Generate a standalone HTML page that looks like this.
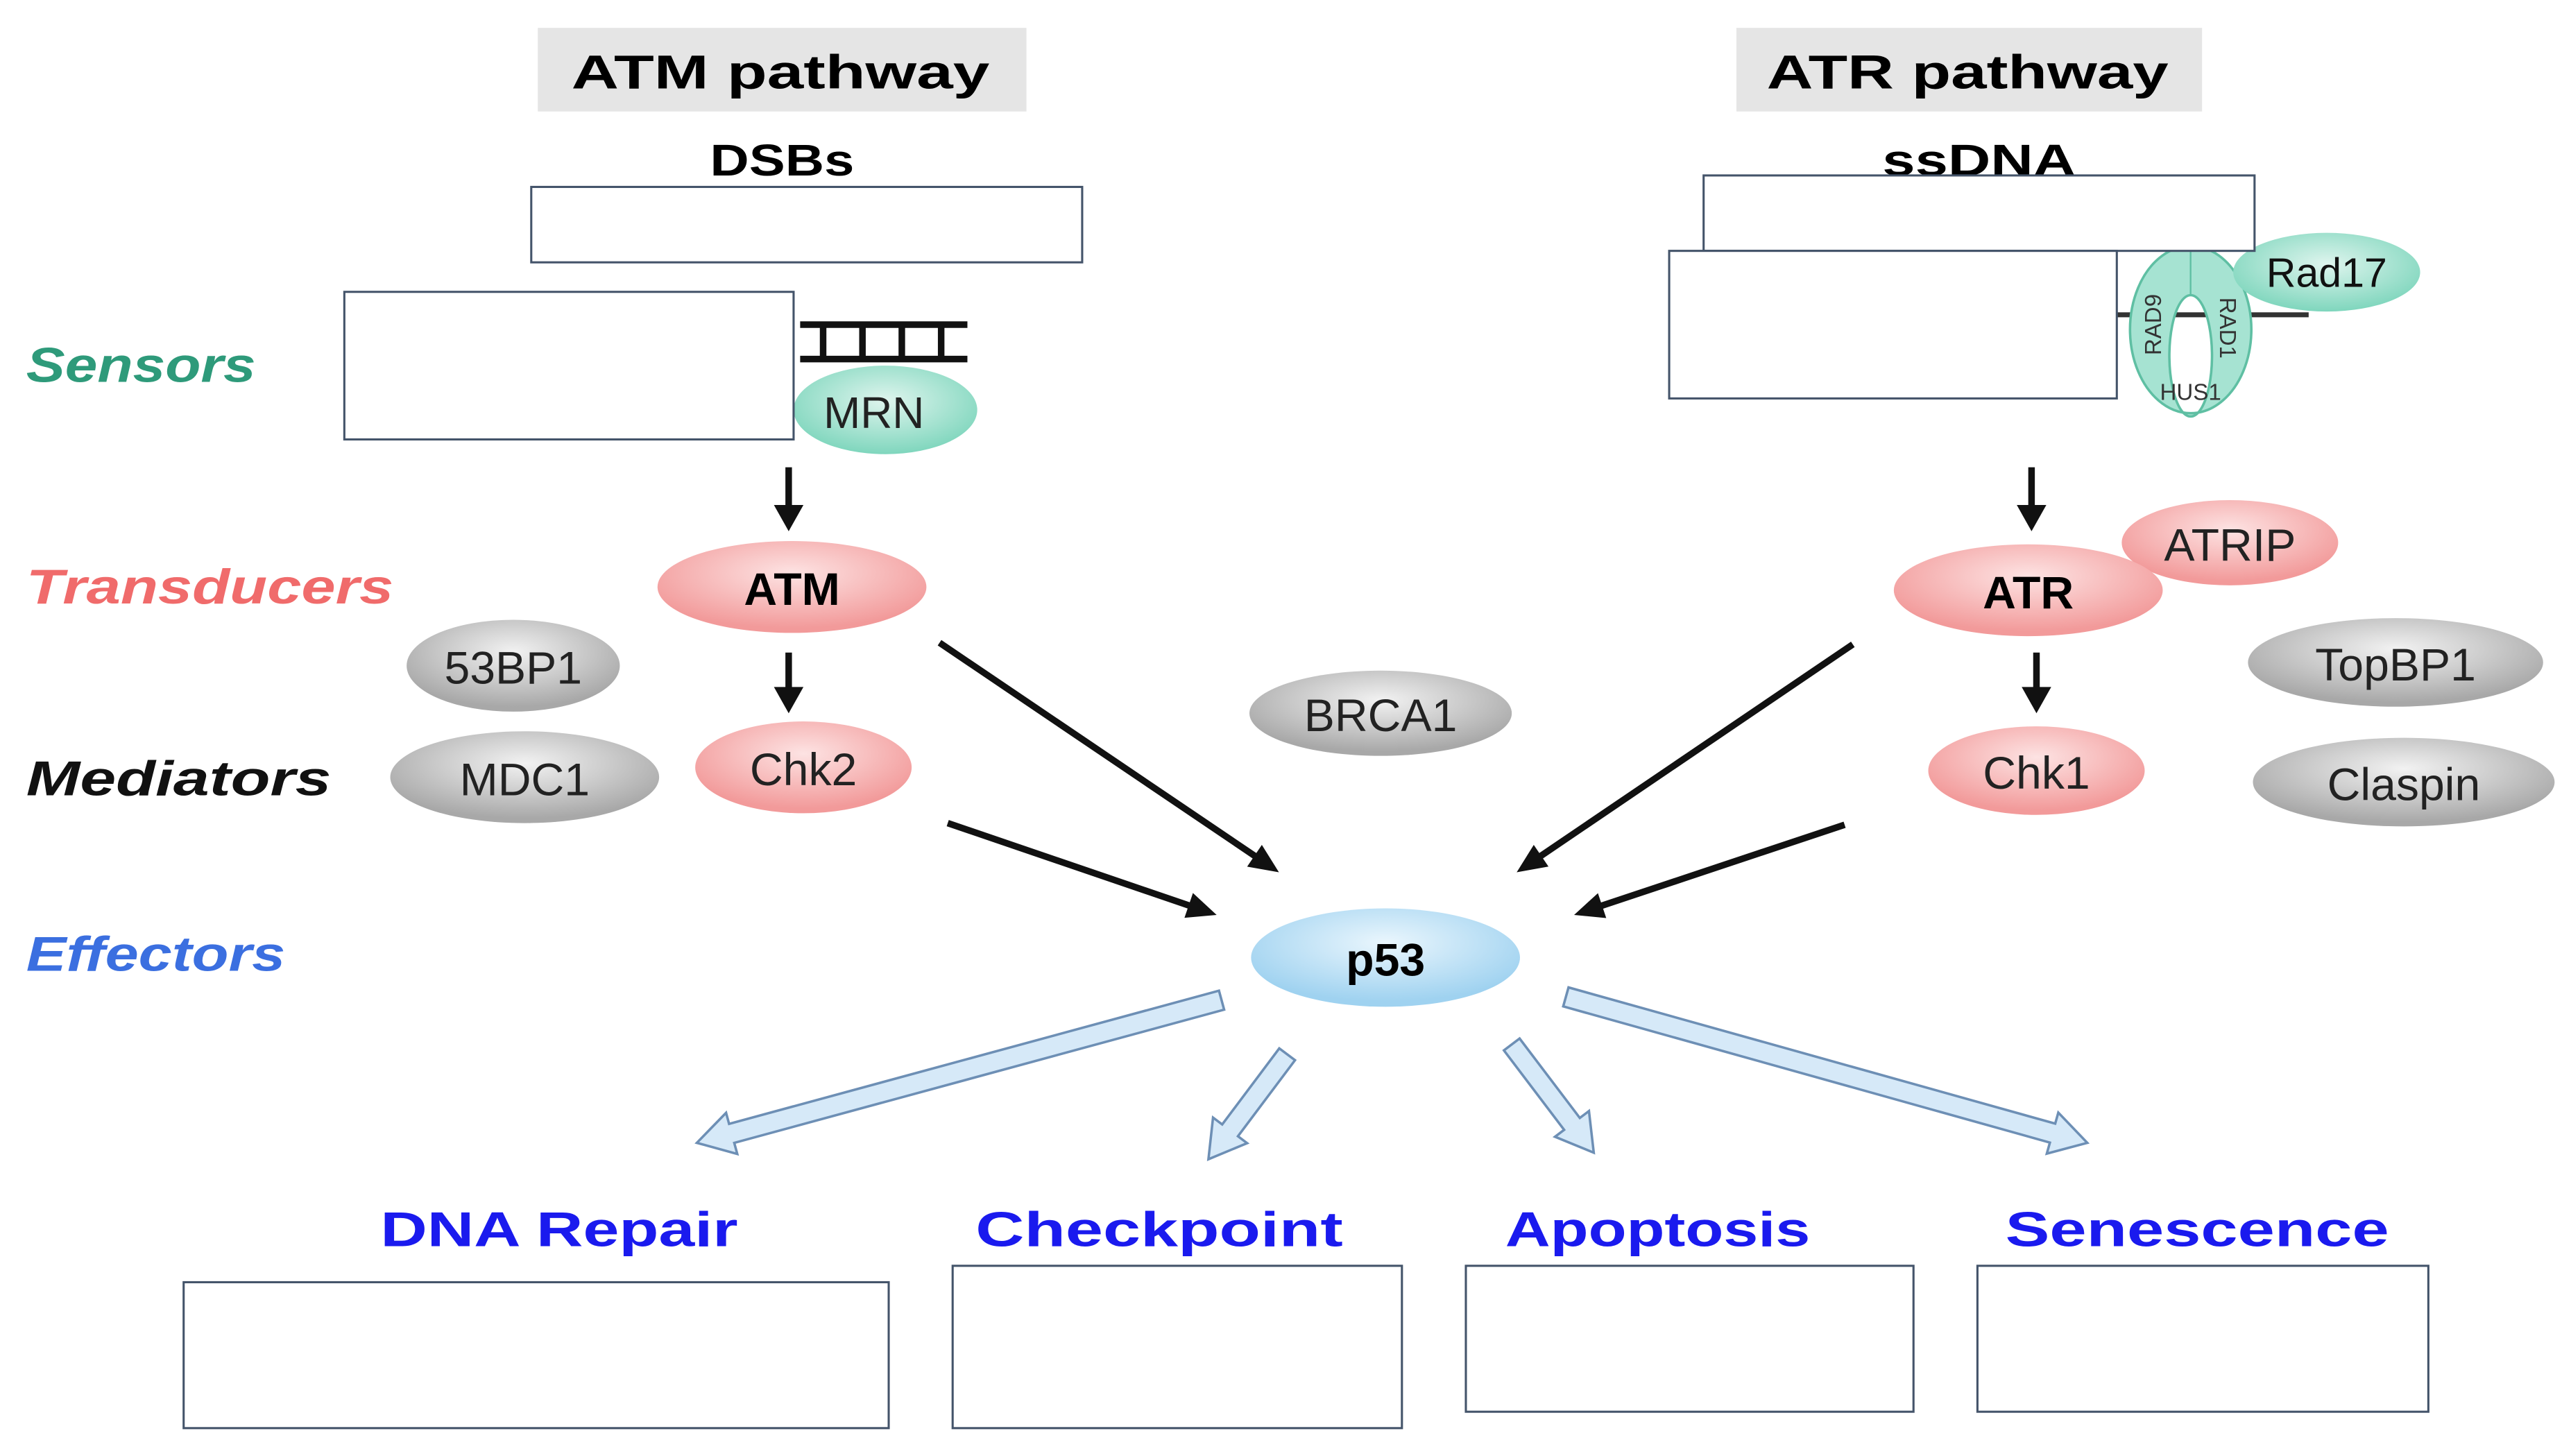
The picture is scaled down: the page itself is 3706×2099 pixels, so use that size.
<!DOCTYPE html>
<html><head><meta charset="utf-8"><style>
html,body{margin:0;padding:0;background:#fff}
svg{display:block}
text{font-family:"Liberation Sans",sans-serif}
</style></head><body>
<svg id="s" width="3706" height="2099" viewBox="0 0 1568 888" preserveAspectRatio="none" xmlns="http://www.w3.org/2000/svg">
<defs>
<radialGradient id="gm" cx="50%" cy="40%" r="60%"><stop offset="0" stop-color="#dff5ee"/><stop offset="1" stop-color="#7fd6bd"/></radialGradient>
<radialGradient id="gp" cx="50%" cy="35%" r="60%"><stop offset="0" stop-color="#fde3e3"/><stop offset="1" stop-color="#f29a9a"/></radialGradient>
<radialGradient id="gg" cx="50%" cy="35%" r="60%"><stop offset="0" stop-color="#f2f2f2"/><stop offset="1" stop-color="#a8a8a8"/></radialGradient>
<radialGradient id="gb" cx="50%" cy="35%" r="60%"><stop offset="0" stop-color="#eaf6fd"/><stop offset="1" stop-color="#9fd2f0"/></radialGradient>
</defs>
<rect x="328" y="17" width="298" height="51" fill="#e5e5e5"/>
<text x="476" y="54" font-size="29" font-weight="bold" text-anchor="middle" textLength="255" lengthAdjust="spacingAndGlyphs">ATM pathway</text>
<rect x="1059" y="17" width="284" height="51" fill="#e5e5e5"/>
<text x="1200" y="54" font-size="29" font-weight="bold" text-anchor="middle" textLength="245" lengthAdjust="spacingAndGlyphs">ATR pathway</text>
<text x="477" y="107" font-size="27" font-weight="bold" text-anchor="middle" textLength="88" lengthAdjust="spacingAndGlyphs">DSBs</text>
<text x="1207" y="107" font-size="27" font-weight="bold" text-anchor="middle" textLength="118" lengthAdjust="spacingAndGlyphs">ssDNA</text>

<g font-style="italic" font-weight="bold" font-size="30">
<text x="16" y="233" fill="#2e9a7a" textLength="140" lengthAdjust="spacingAndGlyphs">Sensors</text>
<text x="16" y="368" fill="#f06b6b" textLength="224" lengthAdjust="spacingAndGlyphs">Transducers</text>
<text x="16" y="485" fill="#111" textLength="186" lengthAdjust="spacingAndGlyphs">Mediators</text>
<text x="16" y="592" fill="#3b6fe0" textLength="158" lengthAdjust="spacingAndGlyphs">Effectors</text>
</g>

<g stroke="#111" stroke-width="4">
<line x1="488" y1="198" x2="590" y2="198"/><line x1="488" y1="219" x2="590" y2="219"/>
<line x1="502" y1="198" x2="502" y2="219"/><line x1="526" y1="198" x2="526" y2="219"/><line x1="550" y1="198" x2="550" y2="219"/><line x1="574" y1="198" x2="574" y2="219"/>
</g>
<ellipse cx="540" cy="250" rx="56" ry="27" fill="url(#gm)"/>
<text x="533" y="261" font-size="27" text-anchor="middle" fill="#222">MRN</text>

<line x1="1291" y1="192" x2="1408" y2="192" stroke="#333" stroke-width="3"/>
<path fill-rule="evenodd" d="M1336 150 a37 51 0 1 0 0.1 0 Z M1336 180 a13 37 0 1 0 0.1 0 Z" fill="#a6e3d2" stroke="#5fbfa3" stroke-width="1.5"/>
<line x1="1336" y1="150" x2="1336" y2="180" stroke="#5fbfa3"/>
<text x="1336" y="244" font-size="14" text-anchor="middle" fill="#333">HUS1</text>
<text transform="translate(1318,198) rotate(-90)" font-size="14" text-anchor="middle" fill="#333">RAD9</text>
<text transform="translate(1354,200) rotate(90)" font-size="14" text-anchor="middle" fill="#333">RAD1</text>
<ellipse cx="1419" cy="166" rx="57" ry="24" fill="url(#gm)"/>
<text x="1419" y="175" font-size="25" text-anchor="middle" fill="#111">Rad17</text>

<g fill="#fff" stroke="#44546a" stroke-width="1.3">
<rect x="324" y="114" width="336" height="46"/>
<rect x="210" y="178" width="274" height="90"/>
<rect x="1039" y="107" width="336" height="46"/>
<rect x="1018" y="153" width="273" height="90"/>
<rect x="112" y="782" width="430" height="89"/>
<rect x="581" y="772" width="274" height="99"/>
<rect x="894" y="772" width="273" height="89"/>
<rect x="1206" y="772" width="275" height="89"/>
</g>

<g stroke="#111" stroke-width="4" fill="#111">
<line x1="481" y1="285" x2="481" y2="310"/><polygon points="472,308 490,308 481,324" stroke="none"/>
<line x1="481" y1="398" x2="481" y2="421"/><polygon points="472,419 490,419 481,435" stroke="none"/>
<line x1="1239" y1="285" x2="1239" y2="310"/><polygon points="1230,308 1248,308 1239,324" stroke="none"/>
<line x1="1242" y1="398" x2="1242" y2="421"/><polygon points="1233,419 1251,419 1242,435" stroke="none"/>
</g>

<ellipse cx="483" cy="358" rx="82" ry="28" fill="url(#gp)"/>
<text x="483" y="369" font-size="28" font-weight="bold" text-anchor="middle">ATM</text>
<ellipse cx="1360" cy="331" rx="66" ry="26" fill="url(#gp)"/>
<text x="1360" y="342" font-size="28" text-anchor="middle" fill="#222">ATRIP</text>
<ellipse cx="1237" cy="360" rx="82" ry="28" fill="url(#gp)"/>
<text x="1237" y="371" font-size="28" font-weight="bold" text-anchor="middle">ATR</text>
<ellipse cx="313" cy="406" rx="65" ry="28" fill="url(#gg)"/>
<text x="313" y="417" font-size="28" text-anchor="middle" fill="#222">53BP1</text>
<ellipse cx="320" cy="474" rx="82" ry="28" fill="url(#gg)"/>
<text x="320" y="485" font-size="28" text-anchor="middle" fill="#222">MDC1</text>
<ellipse cx="490" cy="468" rx="66" ry="28" fill="url(#gp)"/>
<text x="490" y="479" font-size="28" text-anchor="middle" fill="#222">Chk2</text>
<ellipse cx="842" cy="435" rx="80" ry="26" fill="url(#gg)"/>
<text x="842" y="446" font-size="28" text-anchor="middle" fill="#222">BRCA1</text>
<ellipse cx="1461" cy="404" rx="90" ry="27" fill="url(#gg)"/>
<text x="1461" y="415" font-size="28" text-anchor="middle" fill="#222">TopBP1</text>
<ellipse cx="1242" cy="470" rx="66" ry="27" fill="url(#gp)"/>
<text x="1242" y="481" font-size="28" text-anchor="middle" fill="#222">Chk1</text>
<ellipse cx="1466" cy="477" rx="92" ry="27" fill="url(#gg)"/>
<text x="1466" y="488" font-size="28" text-anchor="middle" fill="#222">Claspin</text>
<ellipse cx="845" cy="584" rx="82" ry="30" fill="url(#gb)"/>
<text x="845" y="595" font-size="28" font-weight="bold" text-anchor="middle">p53</text>

<g id="arr"></g>

<g font-size="30" font-weight="bold" fill="#1a1aee" text-anchor="middle">
<text x="341" y="760" textLength="218" lengthAdjust="spacingAndGlyphs">DNA Repair</text>
<text x="707" y="760" textLength="224" lengthAdjust="spacingAndGlyphs">Checkpoint</text>
<text x="1011" y="760" textLength="186" lengthAdjust="spacingAndGlyphs">Apoptosis</text>
<text x="1340" y="760" textLength="234" lengthAdjust="spacingAndGlyphs">Senescence</text>
</g>
</svg>
<script>
var g=document.getElementById('arr'),NS='http://www.w3.org/2000/svg';
function solid(x1,y1,x2,y2){var dx=x2-x1,dy=y2-y1,L=Math.hypot(dx,dy),ux=dx/L,uy=dy/L,px=-uy,py=ux,h=18,w=8;
var bx=x2-ux*h,by=y2-uy*h;
var l=document.createElementNS(NS,'line');l.setAttribute('x1',x1);l.setAttribute('y1',y1);l.setAttribute('x2',bx+ux*2);l.setAttribute('y2',by+uy*2);l.setAttribute('stroke','#111');l.setAttribute('stroke-width','4');g.appendChild(l);
var p=document.createElementNS(NS,'polygon');p.setAttribute('points',[x2,y2,bx+px*w,by+py*w,bx-px*w,by-py*w].join(' '));p.setAttribute('fill','#111');g.appendChild(p);}
function hollow(x1,y1,x2,y2){var dx=x2-x1,dy=y2-y1,L=Math.hypot(dx,dy),ux=dx/L,uy=dy/L,px=-uy,py=ux,h=22,w=13,s=6;
var bx=x2-ux*h,by=y2-uy*h;
var pts=[x1+px*s,y1+py*s,bx+px*s,by+py*s,bx+px*w,by+py*w,x2,y2,bx-px*w,by-py*w,bx-px*s,by-py*s,x1-px*s,y1-py*s];
var p=document.createElementNS(NS,'polygon');p.setAttribute('points',pts.join(' '));p.setAttribute('fill','#d6e9f8');p.setAttribute('stroke','#6d8fb5');p.setAttribute('stroke-width','1.5');g.appendChild(p);}
solid(573,392,780,532);solid(578,502,742,558);solid(1130,393,925,532);solid(1125,503,960,558);
hollow(745,610,425,697);hollow(785,643,737,707);hollow(922,637,972,703);hollow(955,608,1273,697);
</script>
</body></html>
